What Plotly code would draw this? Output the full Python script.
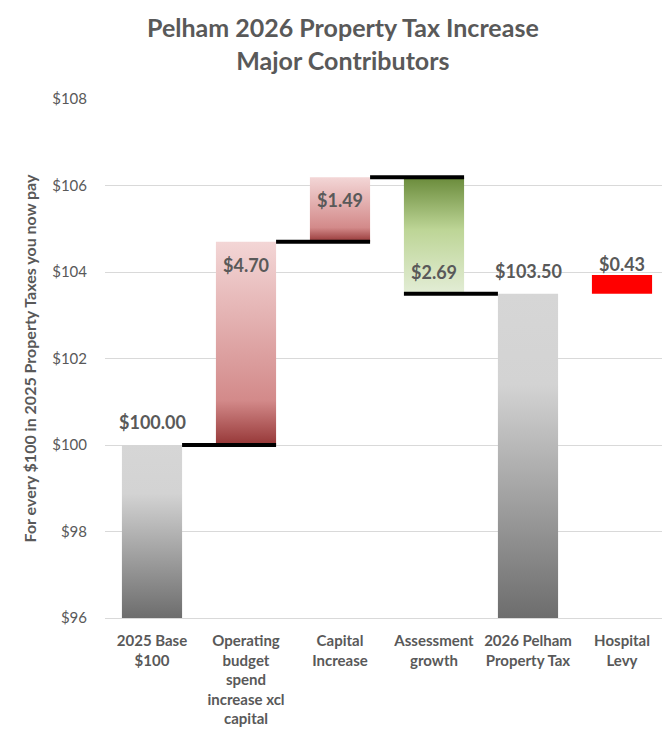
import plotly.graph_objects as go

# categories and values
categories = ["2025 Base<br>$100",
              "Operating<br>budget<br>spend<br>increase xcl<br>capital",
              "Capital<br>Increase",
              "Assessment<br>growth",
              "2026 Pelham<br>Property Tax",
              "Hospital<br>Levy"]
base_value = 100.00
steps = [4.70, 1.49, -2.69]
total_value = 103.50
levy_value = 0.43
value_labels = ["$100.00", "$4.70", "$1.49", "$2.69", "$103.50", "$0.43"]

y_min, y_max = 96, 108
tick_vals = [96, 98, 100, 102, 104, 106, 108]

TEXT = "#595959"
FONT = "Lato"
half = 0.32  # half bar width in category units

gray = [[0, "#6d6d6d"], [0.72, "#d3d3d3"], [1, "#d6d6d6"]]
red = [[0, "#963737"], [0.22, "#d38a8a"], [1, "#f3d6d6"]]
green = [[0, "#e3edd6"], [0.55, "#bdd596"], [1, "#6a8b3b"]]

# bar extents from the data
levels = [base_value]
for s in steps:
    levels.append(round(levels[-1] + s, 2))

bars = [(y_min, base_value, gray)]
for i, s in enumerate(steps):
    lo, hi = sorted([levels[i], levels[i + 1]])
    bars.append((lo, hi, green if s < 0 else red))
bars.append((y_min, total_value, gray))
bars.append((total_value, round(total_value + levy_value, 2), "#ff0000"))

fig = go.Figure()

for i, (lo, hi, col) in enumerate(bars):
    xs = [i - half, i + half, i + half, i - half, i - half]
    ys = [lo, lo, hi, hi, lo]
    tr = dict(x=xs, y=ys, mode="lines", fill="toself", line=dict(width=0),
              hoverinfo="skip", showlegend=False)
    if isinstance(col, str):
        tr["fillcolor"] = col
    else:
        tr["fillgradient"] = dict(type="vertical", colorscale=col, start=lo, stop=hi)
    fig.add_trace(go.Scatter(**tr))

# connector lines
conn = [(levels[0], 0 + half, 1 + half),
        (levels[1], 1 + half, 2 + half),
        (levels[2], 2 + half, 3 + half),
        (levels[3], 3 - half, 4 - half)]
for lv, x0, x1 in conn:
    fig.add_trace(go.Scatter(x=[x0, x1], y=[lv, lv], mode="lines",
                             line=dict(color="black", width=4),
                             hoverinfo="skip", showlegend=False))

# value labels
lab_font = dict(family=FONT, size=18, color=TEXT, weight="bold")
label_pos = [(bars[0][1], "bottom", 10),
             (bars[1][1], "top", -10),
             (bars[2][1], "top", -10),
             (bars[3][0], "bottom", 9),
             (bars[4][1], "bottom", 10),
             (bars[5][1], "bottom", -2)]
for i, (yv, anchor, shift) in enumerate(label_pos):
    fig.add_annotation(x=i, y=yv, text=value_labels[i], showarrow=False,
                       yanchor=anchor, yshift=shift, font=lab_font)

# chart title
fig.add_annotation(text="Pelham 2026 Property Tax Increase<br>Major Contributors",
                   xref="paper", yref="paper", x=0.422, y=1.107,
                   xanchor="center", yanchor="middle", showarrow=False,
                   font=dict(family=FONT, size=25, color=TEXT, weight="bold"))

fig.update_layout(
    width=662, height=728,
    margin=dict(l=97, r=1, t=91, b=118),
    paper_bgcolor="white", plot_bgcolor="white",
    xaxis=dict(range=[-0.5, 5.5], tickvals=list(range(len(categories))),
               ticktext=categories, showgrid=False, zeroline=False,
               showline=True, linecolor="#d9d9d9", linewidth=1,
               tickfont=dict(family=FONT, size=15, color=TEXT, weight="bold"),
               ticks="", ticklen=0, ticklabelstandoff=9),
    yaxis=dict(range=[y_min, y_max], tickvals=tick_vals,
               ticktext=[f"${v}" for v in tick_vals],
               showgrid=True, gridcolor="#d9d9d9", gridwidth=1, zeroline=False,
               tickfont=dict(family=FONT, size=15, color=TEXT),
               ticks="", ticklabelstandoff=17,
               title=dict(text="For every $100 in 2025 Property Taxes you now pay",
                          font=dict(family=FONT, size=16, color=TEXT, weight="bold"),
                          standoff=11)),
)

fig.write_html("out.html")
